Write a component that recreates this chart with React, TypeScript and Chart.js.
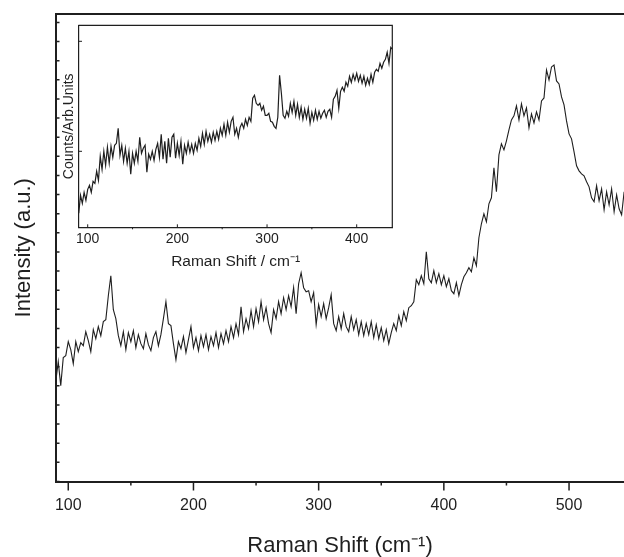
import { useEffect, useRef } from 'react';
import { Chart, registerables } from 'chart.js';

Chart.register(...registerables);

const FONT_FAMILY = "'Liberation Sans', Arial, Helvetica, sans-serif";
const INK = '#1f1f1f';

// ---------- main spectrum (Raman shift sampled every 2 cm-1 from 90) ----------
const MAIN_SHIFT_START = 90;
const MAIN_SHIFT_STEP = 2;
const MAIN_INTENSITY = [
  100, 120, 96, 124, 126, 140, 132, 118, 140, 130,
  139, 136, 150, 141, 130, 152, 143, 155, 146, 160,
  162, 186, 206, 172, 163, 146, 136, 150, 132, 149,
  140, 151, 134, 147, 138, 133, 148, 137, 131, 144,
  150, 136, 147, 163, 180, 158, 156, 138, 122, 140,
  133, 145, 129, 142, 155, 134, 144, 131, 146, 135,
  147, 132, 145, 136, 149, 134, 148, 138, 151, 140,
  155, 144, 158, 147, 175, 150, 163, 153, 171, 155,
  173, 160, 180, 162, 174, 158, 149, 172, 163, 180,
  168, 184, 172, 186, 175, 194, 168, 198, 209, 194,
  190, 191, 180, 189, 157, 177, 165, 178, 163, 174,
  187, 158, 151, 165, 153, 168, 155, 150, 165, 152,
  162, 147, 160, 146, 158, 147, 160, 144, 157, 143,
  154, 141, 152, 138, 149, 158, 151, 166, 156, 170,
  161, 174, 176, 180, 202, 197, 206, 198, 230, 203,
  199, 211, 199, 208, 197, 206, 195, 203, 191, 188,
  199, 186, 197, 205, 209, 214, 210, 224, 216, 244,
  258, 268, 260, 278, 284, 314, 290, 327, 338, 332,
  341, 352, 362, 366, 376, 362, 378, 366, 374, 354,
  368, 359, 370, 362, 381, 384, 412, 402, 415, 417,
  401, 398, 385, 377, 361, 348, 343, 330, 316, 311,
  308, 306, 300, 295, 284, 280, 296, 281, 293, 272,
  290, 277, 293, 270, 287, 273, 267, 290,
];
const MAIN_X_MIN = 90.2;
const MAIN_X_MAX = 543.9;
const MAIN_Y_MIN = 0;
const MAIN_Y_MAX = 468;
const MAIN_X_LABELS = [100, 200, 300, 400, 500];
const MAIN_X_MINOR = [150, 250, 350, 450];
const MAIN_Y_TICK_STEP = 19.15;

// ---------- inset spectrum ----------
const INSET_SHIFT_START = 90;
const INSET_SHIFT_STEP = 2;
const INSET_COUNTS = [
  14, 32, 24, 35, 27, 38, 42, 35, 46, 44,
  56, 47, 71, 58, 76, 62, 80, 64, 81, 70,
  82, 84, 99, 72, 82, 66, 79, 64, 76, 53,
  74, 64, 76, 66, 90, 74, 79, 82, 55, 73,
  68, 76, 67, 78, 84, 70, 93, 68, 86, 64,
  89, 70, 90, 93, 69, 84, 72, 86, 63, 82,
  74, 85, 75, 83, 74, 84, 77, 89, 81, 94,
  83, 96, 86, 93, 85, 95, 87, 96, 88, 99,
  92, 103, 92, 105, 95, 106, 110, 93, 99, 90,
  100, 104, 99, 108, 102, 110, 106, 129, 132, 124,
  122, 124, 117, 121, 112, 112, 114, 106, 105, 101,
  99, 110, 152, 134, 112, 109, 116, 111, 124, 115,
  126, 112, 123, 110, 120, 108, 118, 109, 119, 104,
  115, 107, 117, 108, 116, 109, 114, 117, 110, 116,
  118, 110, 128, 131, 137, 119, 136, 140, 136, 145,
  141, 151, 145, 153, 147, 154, 146, 152, 144, 151,
  142, 149, 143, 153, 145, 155, 158, 156, 164, 159,
  165, 168, 175, 164, 180, 178,
];
const INSET_X_MIN = 90.3;
const INSET_X_MAX = 439.7;
const INSET_Y_MIN = 0;
const INSET_Y_MAX = 202;
const INSET_X_LABELS = [100, 200, 300, 400];
const INSET_X_MINOR = [150, 250, 350];
const INSET_Y_TICKS = [76, 186];

const toPoints = (start: number, step: number, values: number[]) =>
  values.map((y, i) => ({ x: start + i * step, y }));

const axisDecor = {
  id: 'axisDecor',
  afterDraw(chart: any, _args: any, opts: any) {
    const { ctx, chartArea: a } = chart;
    const xs = chart.scales.x;
    const ys = chart.scales.y;
    ctx.save();
    ctx.strokeStyle = opts.color;
    ctx.lineCap = 'butt';
    if (opts.frameTop || opts.frameRight) {
      ctx.lineWidth = opts.frameWidth;
      ctx.beginPath();
      if (opts.frameTop) {
        ctx.moveTo(a.left - opts.frameWidth / 2, a.top);
        ctx.lineTo(a.right + (opts.frameRight ? opts.frameWidth / 2 : 0), a.top);
      }
      if (opts.frameRight) {
        ctx.moveTo(a.right, a.top);
        ctx.lineTo(a.right, a.bottom);
      }
      ctx.stroke();
    }
    ctx.lineWidth = opts.tickWidth;
    ctx.beginPath();
    for (const t of xs.ticks) {
      const px = xs.getPixelForValue(t.value);
      const major = opts.xMajor.includes(t.value);
      const len = major ? opts.xMajorLen : opts.xMinorLen;
      ctx.moveTo(px, a.bottom);
      ctx.lineTo(px, a.bottom + len);
    }
    for (const t of ys.ticks) {
      const py = ys.getPixelForValue(t.value);
      ctx.moveTo(a.left, py);
      ctx.lineTo(a.left + opts.yLen, py);
    }
    ctx.stroke();
    ctx.restore();
  },
};

export default function App() {
  const mainRef = useRef<HTMLCanvasElement | null>(null);
  const insetRef = useRef<HTMLCanvasElement | null>(null);

  useEffect(() => {
    if (!mainRef.current || !insetRef.current) return;

    const mainYTicks: number[] = [];
    for (let v = MAIN_Y_MIN; v <= MAIN_Y_MAX; v += MAIN_Y_TICK_STEP) mainYTicks.push(v);
    const mainXTicks = [...MAIN_X_LABELS, ...MAIN_X_MINOR].sort((p, q) => p - q);
    const insetXTicks = [...INSET_X_LABELS, ...INSET_X_MINOR].sort((p, q) => p - q);

    const main = new Chart(mainRef.current, {
      type: 'line',
      data: {
        datasets: [
          {
            data: toPoints(MAIN_SHIFT_START, MAIN_SHIFT_STEP, MAIN_INTENSITY),
            borderColor: INK,
            borderWidth: 1.1,
            pointRadius: 0,
            fill: false,
            tension: 0,
          },
        ],
      },
      options: {
        animation: false,
        responsive: false,
        devicePixelRatio: 1,
        events: [],
        layout: { padding: { top: 14, right: 0, bottom: 0, left: 0 } },
        plugins: {
          legend: { display: false },
          tooltip: { enabled: false },
          axisDecor: {
            color: INK,
            frameTop: true,
            frameRight: false,
            frameWidth: 2,
            tickWidth: 1.5,
            xMajor: MAIN_X_LABELS,
            xMajorLen: 9,
            xMinorLen: 4,
            yLen: 3.5,
          },
        } as any,
        scales: {
          x: {
            type: 'linear',
            position: 'bottom',
            min: MAIN_X_MIN,
            max: MAIN_X_MAX,
            bounds: 'data',
            afterBuildTicks: (s: any) => {
              s.ticks = mainXTicks.map((value) => ({ value }));
            },
            afterFit: (s: any) => {
              s.height = 75.5;
            },
            ticks: {
              autoSkip: false,
              maxRotation: 0,
              padding: 14.7,
              color: INK,
              font: { family: FONT_FAMILY, size: 16 },
              callback: (v: any) => (MAIN_X_LABELS.includes(v) ? String(v) : ''),
            },
            grid: { display: false, drawTicks: false },
            border: { display: true, color: INK, width: 2 },
            title: {
              display: true,
              text: 'Raman Shift (cm⁻¹)',
              color: INK,
              font: { family: FONT_FAMILY, size: 22, lineHeight: 1 },
              padding: { top: 0, bottom: 0.5 },
            },
          },
          y: {
            type: 'linear',
            min: MAIN_Y_MIN,
            max: MAIN_Y_MAX,
            bounds: 'data',
            afterBuildTicks: (s: any) => {
              s.ticks = mainYTicks.map((value) => ({ value }));
            },
            afterFit: (s: any) => {
              s.width = 56;
            },
            ticks: { display: false },
            grid: { display: false, drawTicks: false },
            border: { display: true, color: INK, width: 2 },
            title: {
              display: true,
              text: 'Intensity (a.u.)',
              color: INK,
              font: { family: FONT_FAMILY, size: 22, lineHeight: 1 },
              padding: { top: 12.9, bottom: 0 },
            },
          },
        },
      } as any,
      plugins: [axisDecor as any],
    });

    const inset = new Chart(insetRef.current, {
      type: 'line',
      data: {
        datasets: [
          {
            data: toPoints(INSET_SHIFT_START, INSET_SHIFT_STEP, INSET_COUNTS),
            borderColor: INK,
            borderWidth: 1.2,
            pointRadius: 0,
            fill: false,
            tension: 0,
          },
        ],
      },
      options: {
        animation: false,
        responsive: false,
        devicePixelRatio: 1,
        events: [],
        layout: { padding: { top: 10.3, right: 7.7, bottom: 0, left: 0 } },
        plugins: {
          legend: { display: false },
          tooltip: { enabled: false },
          axisDecor: {
            color: INK,
            frameTop: true,
            frameRight: true,
            frameWidth: 1.2,
            tickWidth: 1,
            xMajor: INSET_X_LABELS,
            xMajorLen: -3,
            xMinorLen: 2,
            yLen: 3,
          },
        } as any,
        scales: {
          x: {
            type: 'linear',
            position: 'bottom',
            min: INSET_X_MIN,
            max: INSET_X_MAX,
            bounds: 'data',
            afterBuildTicks: (s: any) => {
              s.ticks = insetXTicks.map((value) => ({ value }));
            },
            afterFit: (s: any) => {
              s.height = 47.7;
            },
            ticks: {
              autoSkip: false,
              maxRotation: 0,
              padding: 3.3,
              color: INK,
              font: { family: FONT_FAMILY, size: 14 },
              callback: (v: any) => (INSET_X_LABELS.includes(v) ? String(v) : ''),
            },
            grid: { display: false, drawTicks: false },
            border: { display: true, color: INK, width: 1.2 },
            title: {
              display: true,
              text: 'Raman Shift / cm⁻¹',
              color: INK,
              font: { family: FONT_FAMILY, size: 15.5, lineHeight: 1 },
              padding: { top: 0, bottom: 5.35 },
            },
          },
          y: {
            type: 'linear',
            min: INSET_Y_MIN,
            max: INSET_Y_MAX,
            bounds: 'data',
            afterBuildTicks: (s: any) => {
              s.ticks = INSET_Y_TICKS.map((value) => ({ value }));
            },
            afterFit: (s: any) => {
              s.width = 39;
            },
            ticks: { display: false },
            grid: { display: false, drawTicks: false },
            border: { display: true, color: INK, width: 1.2 },
            title: {
              display: true,
              text: 'Counts/Arb.Units',
              color: INK,
              font: { family: FONT_FAMILY, size: 14, lineHeight: 1 },
              padding: { top: 21.7, bottom: 0 },
            },
          },
        },
      } as any,
      plugins: [axisDecor as any],
    });

    return () => {
      main.destroy();
      inset.destroy();
    };
  }, []);

  return (
    <div
      style={{
        position: 'absolute',
        left: 0,
        top: 0,
        width: 624,
        height: 557,
        overflow: 'hidden',
        background: '#ffffff',
      }}
    >
      <canvas
        ref={mainRef}
        width={624}
        height={557}
        style={{ position: 'absolute', left: 0, top: 0, width: 624, height: 557 }}
      />
      <canvas
        ref={insetRef}
        width={360}
        height={260}
        style={{ position: 'absolute', left: 40, top: 15, width: 360, height: 260 }}
      />
    </div>
  );
}
